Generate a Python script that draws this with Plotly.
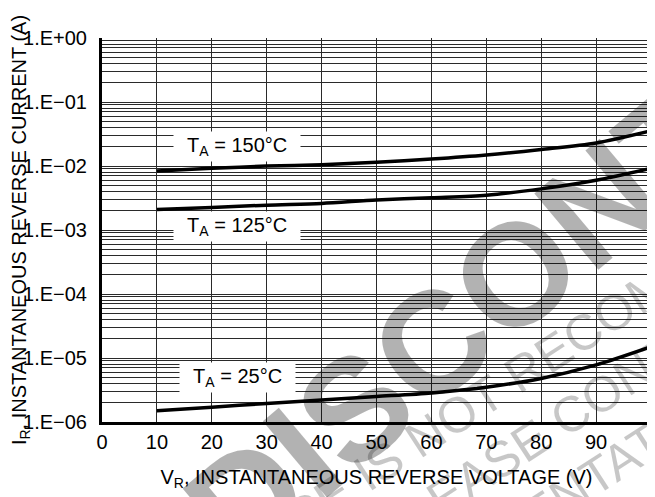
import plotly.graph_objects as go

# ---------------- data ----------------
v_r = [10, 20, 30, 40, 50, 60, 70, 80, 90, 100]
i_150 = [8.4e-3, 9.2e-3, 1.0e-2, 1.05e-2, 1.15e-2, 1.29e-2, 1.49e-2, 1.82e-2, 2.3e-2, 3.56e-2]
i_125 = [2.1e-3, 2.24e-3, 2.45e-3, 2.6e-3, 2.95e-3, 3.2e-3, 3.5e-3, 4.4e-3, 6.0e-3, 9.2e-3]
i_25 = [1.5e-6, 1.7e-6, 1.95e-6, 2.2e-6, 2.5e-6, 2.85e-6, 3.5e-6, 4.8e-6, 7.8e-6, 1.5e-5]

series_labels = ["T<sub>A</sub> = 150°C", "T<sub>A</sub> = 125°C", "T<sub>A</sub> = 25°C"]
label_x = [24.6, 24.6, 24.6]
label_logy = [-1.70, -2.95, -5.31]

x_ticks = [0, 10, 20, 30, 40, 50, 60, 70, 80, 90, 100]
y_decades = [1e-6, 1e-5, 1e-4, 1e-3, 1e-2, 1e-1, 1e0]
y_tick_labels = ["1.E\u221206", "1.E\u221205", "1.E\u221204", "1.E\u221203",
                 "1.E\u221202", "1.E\u221201", "1.E+00"]

x_title = "V<sub>R</sub>, INSTANTANEOUS REVERSE VOLTAGE (V)"
y_title = "I<sub>R</sub>, INSTANTANEOUS REVERSE CURRENT (A)"

watermark_main = "DISCONTINUED"
watermark_lines = ["THIS DEVICE IS NOT RECOMMENDED FOR NEW DESIGN",
                   "PLEASE CONTACT YOUR ON SEMICONDUCTOR",
                   "REPRESENTATIVE FOR INFORMATION"]

# ---------------- build ----------------
FONT = "Liberation Sans, Arial, Helvetica, sans-serif"
OFF = 8                       # page body margin
W, H = 647, 489
ML, MR, MT, MB = 94, 4, 30, 75
PW, PH = W - ML - MR, H - MT - MB
PLOT_L, PLOT_B = ML + OFF, H - MB + OFF   # plot edges in window pixels


def px2paper(px, py):
    return (px - PLOT_L) / PW, (PLOT_B - py) / PH


fig = go.Figure()
for ys in (i_150, i_125, i_25):
    fig.add_trace(go.Scatter(x=v_r, y=ys, mode="lines",
                             line=dict(color="black", width=3.5, shape="spline", smoothing=0.8),
                             showlegend=False, hoverinfo="skip"))

annotations = []
wx, wy = px2paper(630, 178)
annotations.append(dict(text=watermark_main, x=wx, y=wy, xref="paper", yref="paper",
                        showarrow=False, xanchor="center", yanchor="middle", textangle=-40,
                        font=dict(family=FONT, size=145, color="rgba(0,0,0,0.30)", weight="bold")))
for txt, (cx, cy) in zip(watermark_lines, [(657, 285), (864, 224), (741, 382)]):
    ax_, ay_ = px2paper(cx, cy)
    annotations.append(dict(text=txt, x=ax_, y=ay_, xref="paper", yref="paper",
                            showarrow=False, xanchor="center", yanchor="middle", textangle=-33,
                            font=dict(family=FONT, size=50, color="rgba(0,0,0,0.22)")))

nb = "\u00a0\u00a0"
for lab, lx, ly in zip(series_labels, label_x, label_logy):
    annotations.append(dict(text=nb + lab + nb, x=lx, y=ly, xref="x", yref="y",
                            showarrow=False, xanchor="center", yanchor="middle",
                            bgcolor="white", borderpad=2,
                            font=dict(family=FONT, size=20, color="black")))

fig.update_layout(
    width=W, height=H,
    margin=dict(l=ML, r=MR, t=MT, b=MB, autoexpand=False),
    paper_bgcolor="white", plot_bgcolor="white",
    font=dict(family=FONT, size=20, color="black"),
    annotations=annotations,
    xaxis=dict(range=[0, 100], tickvals=x_ticks, showgrid=True, gridcolor="#2a2a2a", gridwidth=1,
               showline=True, linecolor="black", linewidth=3, ticks="", zeroline=False,
               tickfont=dict(family=FONT, size=20, color="black"), ticklabelstandoff=0,
               title=dict(text=x_title, font=dict(family=FONT, size=20, color="black"), standoff=18)),
    yaxis=dict(type="log", range=[-6, 0.001], tickvals=y_decades, ticktext=y_tick_labels,
               showgrid=True, gridcolor="#2a2a2a", gridwidth=1,
               minor=dict(tickmode="linear", dtick="D1", showgrid=True, gridcolor="#2a2a2a",
                          gridwidth=1, ticks=""),
               showline=True, linecolor="black", linewidth=3, ticks="", zeroline=False,
               tickfont=dict(family=FONT, size=20, color="black"), ticklabelstandoff=8,
               title=dict(text=y_title, font=dict(family=FONT, size=20, color="black"), standoff=0)),
)

fig.write_html("out.html")
